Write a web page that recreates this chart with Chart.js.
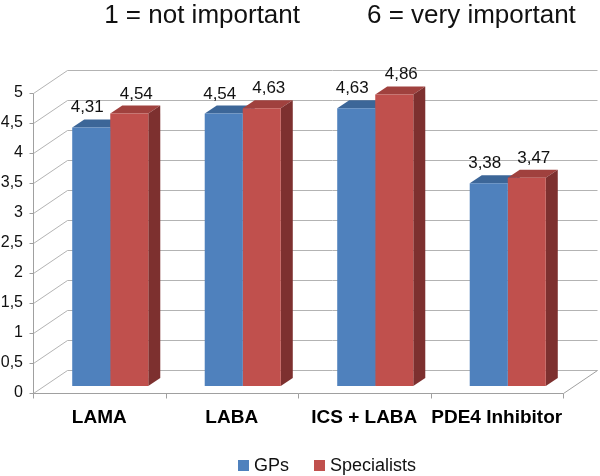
<!DOCTYPE html>
<html><head><meta charset="utf-8">
<script src="https://cdn.jsdelivr.net/npm/chart.js@4/dist/chart.umd.min.js"></script>
<style>html,body{margin:0;padding:0;background:#fff}</style>
</head><body>
<canvas id="c" width="600" height="476"></canvas>
<script>
// ---- data ----
const categories = ['LAMA', 'LABA', 'ICS + LABA', 'PDE4 Inhibitor'];
const seriesNames = ['GPs', 'Specialists'];
const gpsValues = [4.31, 4.54, 4.63, 3.38];
const specialistValues = [4.54, 4.63, 4.86, 3.47];
const yTickValues = [0, 0.5, 1, 1.5, 2, 2.5, 3, 3.5, 4, 4.5, 5];
const titleLeft = '1 = not important';
const titleRight = '6 = very important';

// ---- style ----
const FONT = "'Liberation Sans', Arial, Helvetica, sans-serif";
const frontColors = ['#4F81BD', '#C0504D'];
const topColors = ['#3C6698', '#A0413E'];
const sideColors = ['#355C8A', '#7D302F'];
const DEPTH = { x: 34, y: -23 };      // depth of the 3D box
const BAR_SHIFT = { x: 11, y: -7 };   // bars sit one third into the box
const BAR_DEPTH = { x: 12, y: -8 };   // bar thickness
const labelShift = [-4, 7];

const fmt = v => String(v).replace('.', ',');

const excel3d = {
  id: 'excel3d',
  beforeDatasetsDraw(chart) {
    const { ctx, chartArea: a, scales: { x, y } } = chart;
    const py0 = Math.round(y.getPixelForValue(0)) + 0.5;
    const pyTop = Math.round(y.getPixelForValue(5)) + 0.5;
    const L = a.left + 0.5, R = a.right + 0.5;
    ctx.save();
    ctx.lineWidth = 1;
    ctx.strokeStyle = '#b3b3b3';
    yTickValues.forEach(v => {
      const py = Math.round(y.getPixelForValue(v)) + 0.5;
      ctx.beginPath();
      ctx.moveTo(L, py);
      ctx.lineTo(L + DEPTH.x, py + DEPTH.y);
      ctx.lineTo(R + DEPTH.x, py + DEPTH.y);
      ctx.stroke();
    });
    ctx.strokeStyle = '#a0a0a0';
    ctx.beginPath();
    ctx.moveTo(L, pyTop);
    ctx.lineTo(L, py0);
    ctx.lineTo(R, py0);
    ctx.lineTo(R + DEPTH.x, py0 + DEPTH.y);
    ctx.stroke();
    yTickValues.forEach(v => {
      const py = Math.round(y.getPixelForValue(v)) + 0.5;
      ctx.beginPath();
      ctx.moveTo(L - 4, py);
      ctx.lineTo(L, py);
      ctx.stroke();
    });
    for (let k = 0; k <= categories.length; k++) {
      const px = Math.round(a.left + k * (a.right - a.left) / categories.length) + 0.5;
      ctx.beginPath();
      ctx.moveTo(px, py0);
      ctx.lineTo(px, py0 + 5);
      ctx.stroke();
    }
    ctx.restore();

    ctx.save();
    ctx.translate(BAR_SHIFT.x, BAR_SHIFT.y);
    [0, 1].forEach(di => {
      const meta = chart.getDatasetMeta(di);
      meta.data.forEach(bar => {
        const p = bar.getProps(['x', 'y', 'base', 'width'], true);
        const l = p.x - p.width / 2, r = p.x + p.width / 2;
        ctx.fillStyle = topColors[di];
        ctx.beginPath();
        ctx.moveTo(l, p.y);
        ctx.lineTo(r, p.y);
        ctx.lineTo(r + BAR_DEPTH.x, p.y + BAR_DEPTH.y);
        ctx.lineTo(l + BAR_DEPTH.x, p.y + BAR_DEPTH.y);
        ctx.closePath();
        ctx.fill();
        ctx.fillStyle = sideColors[di];
        ctx.beginPath();
        ctx.moveTo(r, p.y);
        ctx.lineTo(r + BAR_DEPTH.x, p.y + BAR_DEPTH.y);
        ctx.lineTo(r + BAR_DEPTH.x, p.base + BAR_DEPTH.y);
        ctx.lineTo(r, p.base);
        ctx.closePath();
        ctx.fill();
      });
    });
  },
  afterDatasetsDraw(chart) {
    const { ctx } = chart;
    ctx.fillStyle = '#111';
    ctx.font = '17px ' + FONT;
    ctx.textAlign = 'center';
    ctx.textBaseline = 'alphabetic';
    [0, 1].forEach(di => {
      const meta = chart.getDatasetMeta(di);
      const vals = chart.data.datasets[di].data;
      meta.data.forEach((bar, i) => {
        const p = bar.getProps(['x', 'y'], true);
        ctx.fillText(fmt(vals[i]), p.x + labelShift[di], p.y - 15);
      });
    });
    ctx.restore();
  },
  afterDraw(chart) {
    const { ctx } = chart;
    ctx.save();
    ctx.fillStyle = '#111';
    ctx.textBaseline = 'alphabetic';
    ctx.font = '26px ' + FONT;
    ctx.textAlign = 'right';
    ctx.fillText(titleLeft, 300, 23);
    ctx.textAlign = 'left';
    ctx.fillText(titleRight, 367, 23);
    ctx.font = '18px ' + FONT;
    const box = 11, gapBox = 5, gapItem = 25;
    const widths = seriesNames.map(n => box + gapBox + ctx.measureText(n).width);
    const total = widths.reduce((s, w) => s + w, 0) + gapItem * (seriesNames.length - 1);
    let cx = 327 - total / 2;
    seriesNames.forEach((n, i) => {
      ctx.fillStyle = frontColors[i];
      ctx.fillRect(Math.round(cx), 460, box, box);
      ctx.fillStyle = '#111';
      ctx.fillText(n, cx + box + gapBox, 471);
      cx += widths[i] + gapItem;
    });
    ctx.restore();
  }
};

new Chart(document.getElementById('c'), {
  type: 'bar',
  data: {
    labels: categories,
    datasets: [
      { label: seriesNames[0], data: gpsValues, backgroundColor: frontColors[0] },
      { label: seriesNames[1], data: specialistValues, backgroundColor: frontColors[1] }
    ]
  },
  options: {
    responsive: false,
    animation: false,
    devicePixelRatio: 1,
    layout: { padding: { top: 93, left: 0, right: 37, bottom: 0 } },
    datasets: { bar: { barPercentage: 1, categoryPercentage: 0.574, borderWidth: 0, clip: false } },
    plugins: { legend: { display: false }, title: { display: false }, tooltip: { enabled: false } },
    scales: {
      x: {
        grid: { display: false, drawTicks: false },
        border: { display: false },
        ticks: { color: '#000', padding: 13, maxRotation: 0, minRotation: 0, autoSkip: false,
                 font: { family: FONT, size: 19, weight: 'bold' } },
        afterFit: s => { s.height = 83; }
      },
      y: {
        min: 0, max: 5,
        grid: { display: false, drawTicks: false },
        border: { display: false },
        ticks: { stepSize: 0.5, color: '#111', padding: 10, font: { family: FONT, size: 16 }, callback: v => fmt(v) },
        afterFit: s => { s.width = 33; }
      }
    }
  },
  plugins: [excel3d]
});
</script>
</body></html>
